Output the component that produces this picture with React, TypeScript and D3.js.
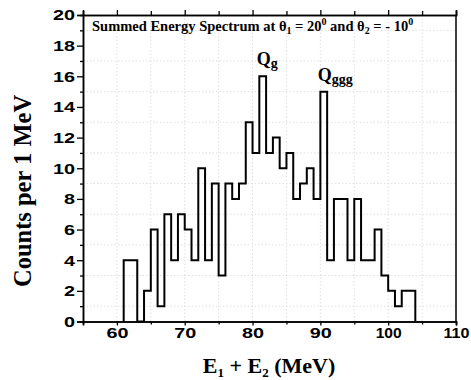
import React, { useEffect, useRef } from "react";
import * as d3 from "d3";

// 1 MeV bins, left edges 61..103
const binStarts = [61, 62, 63, 64, 65, 66, 67, 68, 69, 70, 71, 72, 73, 74, 75, 76, 77, 78, 79, 80, 81, 82,
  83, 84, 85, 86, 87, 88, 89, 90, 91, 92, 93, 94, 95, 96, 97, 98, 99, 100, 101, 102, 103];
const counts = [4, 4, 0, 2, 6, 1, 7, 4, 7, 6, 4, 10, 4, 9, 3, 9, 8, 9, 13, 11, 16, 11,
  12, 10, 11, 8, 9, 10, 8, 15, 4, 8, 8, 4, 8, 4, 4, 6, 3, 2, 1, 2, 2];
const binWidth = 1;

const xDomain = [55, 110];
const yDomain = [0, 20];
const xMajor = [60, 70, 80, 90, 100, 110];
const xMinor = [55, 65, 75, 85, 95, 105];
const yMajor = [0, 2, 4, 6, 8, 10, 12, 14, 16, 18, 20];
const yMinor = [1, 3, 5, 7, 9, 11, 13, 15, 17, 19];

const peakLabels = [
  { main: "Q", sub: "g", x: 81.5, y: 16 },
  { main: "Q", sub: "ggg", x: 90.5, y: 15 },
];

const W = 471;
const H = 380;
const MARGIN = { top: 15, right: 15, bottom: 58.5, left: 83 };

const App = () => {
  const svgRef = useRef(null);

  useEffect(() => {
    const svg = d3.select(svgRef.current);
    svg.selectAll("*").remove();

    const width = W - MARGIN.left - MARGIN.right;
    const height = H - MARGIN.top - MARGIN.bottom;

    const x = d3.scaleLinear().domain(xDomain).range([0, width]);
    const y = d3.scaleLinear().domain(yDomain).range([height, 0]);

    const g = svg.append("g").attr("transform", `translate(${MARGIN.left},${MARGIN.top})`);

    // faint dotted grid
    const grid = g.append("g").attr("stroke", "#d8d8d8").attr("stroke-width", 0.8).attr("stroke-dasharray", "1.5,2");
    grid.selectAll(".vg").data(xMajor.concat(xMinor)).join("line")
      .attr("x1", d => x(d)).attr("x2", d => x(d)).attr("y1", 0).attr("y2", height);
    grid.selectAll(".hg").data(yMinor).join("line")
      .attr("x1", 0).attr("x2", width).attr("y1", d => y(d)).attr("y2", d => y(d));

    // step histogram
    const pts = [[binStarts[0], 0]];
    binStarts.forEach((b, i) => pts.push([b, counts[i]]));
    const last = binStarts[binStarts.length - 1] + binWidth;
    pts.push([last, counts[counts.length - 1]]);
    pts.push([last, 0]);

    const line = d3.line().x(d => x(d[0])).y(d => y(d[1])).curve(d3.curveStepAfter);
    g.append("path").attr("d", line(pts)).attr("fill", "none")
      .attr("stroke", "#000").attr("stroke-width", 2).attr("stroke-linejoin", "miter");

    // axes
    const tickFont = (sel) => sel.selectAll("text")
      .attr("font-family", "'Liberation Sans', Arial, sans-serif")
      .attr("font-weight", "bold").attr("font-size", 15).attr("fill", "#000")
      .attr("textLength", d => { const n = String(d).length; return n === 3 ? 26 : n * 11; })
      .attr("lengthAdjust", "spacingAndGlyphs");

    const xAxis = g.append("g").attr("transform", `translate(0,${height})`)
      .call(d3.axisBottom(x).tickValues(xMajor).tickSize(4).tickPadding(2).tickFormat(d3.format("d")));
    xAxis.call(tickFont);
    g.append("g").attr("transform", `translate(0,${height})`)
      .call(d3.axisBottom(x).tickValues(xMinor).tickSize(3).tickFormat(() => ""));

    const yAxis = g.append("g")
      .call(d3.axisLeft(y).tickValues(yMajor).tickSize(6).tickPadding(2).tickFormat(d3.format("d")));
    yAxis.call(tickFont);
    g.append("g").call(d3.axisLeft(y).tickValues(yMinor).tickSize(3).tickFormat(() => ""));

    g.append("g").call(d3.axisTop(x).tickValues(xMajor).tickSize(5).tickFormat(() => ""));
    g.append("g").call(d3.axisTop(x).tickValues(xMinor).tickSize(4).tickFormat(() => ""));

    g.append("line").attr("x1", width).attr("x2", width).attr("y1", 0).attr("y2", height)
      .attr("stroke", "#000").attr("stroke-width", 1.5);
    g.selectAll(".domain").attr("stroke-width", 1.5);
    g.selectAll(".tick line").attr("stroke-width", 1.3);

    // title inside the frame
    const serif = "'Liberation Serif', 'Times New Roman', serif";
    const title = g.append("text").attr("x", 9).attr("y", 16)
      .attr("font-family", serif).attr("font-weight", "bold").attr("font-size", 14.5);
    title.append("tspan").text("Summed Energy Spectrum at \u03b8");
    title.append("tspan").attr("font-size", 10).attr("dy", 3).text("1");
    title.append("tspan").attr("dy", -3).text(" = 20");
    title.append("tspan").attr("font-size", 10).attr("dy", -6).text("0");
    title.append("tspan").attr("dy", 6).text(" and \u03b8");
    title.append("tspan").attr("font-size", 10).attr("dy", 3).text("2");
    title.append("tspan").attr("dy", -3).text(" = - 10");
    title.append("tspan").attr("font-size", 10).attr("dy", -6).text("0");

    // peak labels
    peakLabels.forEach(p => {
      const t = g.append("text").attr("x", x(p.x) - 6).attr("y", y(p.y) - 11)
        .attr("font-family", serif).attr("font-weight", "bold").attr("font-size", 18);
      t.append("tspan").text(p.main);
      t.append("tspan").attr("font-size", 14).attr("dy", 3).text(p.sub);
    });

    // axis titles
    const xt = svg.append("text").attr("x", 269).attr("y", 373)
      .attr("text-anchor", "middle").attr("font-family", serif).attr("font-weight", "bold").attr("font-size", 22);
    xt.append("tspan").text("E");
    xt.append("tspan").attr("font-size", 13).attr("dy", 4).text("1");
    xt.append("tspan").attr("dy", -4).text(" + E");
    xt.append("tspan").attr("font-size", 13).attr("dy", 4).text("2");
    xt.append("tspan").attr("dy", -4).text(" (MeV)");

    svg.append("text").attr("transform", "translate(31,191) rotate(-90)")
      .attr("text-anchor", "middle").attr("font-family", serif).attr("font-weight", "bold").attr("font-size", 24.5)
      .text("Counts per 1 MeV");
  }, []);

  return (
    <svg ref={svgRef} width={W} height={H}
      style={{ position: "absolute", left: 0, top: 0, background: "#fff" }} />
  );
};

export default App;
